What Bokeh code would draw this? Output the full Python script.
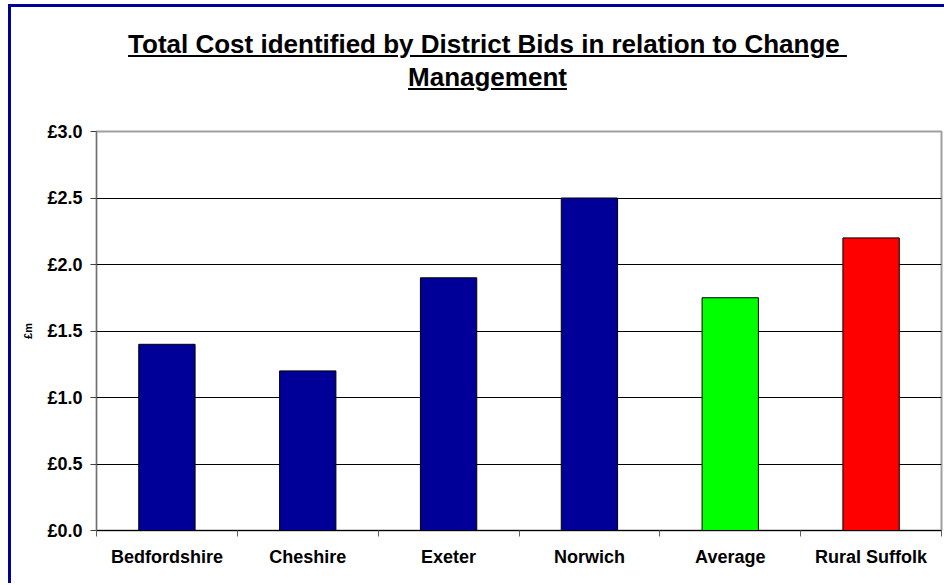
from bokeh.plotting import figure
from bokeh.models import Div, FixedTicker, Range1d, ColumnDataSource
from bokeh.layouts import column
from bokeh.embed import file_html
from bokeh.resources import INLINE

categories = ["Bedfordshire", "Cheshire", "Exeter", "Norwich", "Average", "Rural Suffolk"]
values = [1.4, 1.2, 1.9, 2.5, 1.75, 2.2]
colors = ["#000099", "#000099", "#000099", "#000099", "#00ff00", "#ff0000"]
y_ticks = [0.0, 0.5, 1.0, 1.5, 2.0, 2.5, 3.0]
y_tick_labels = ["£0.0", "£0.5", "£1.0", "£1.5", "£2.0", "£2.5", "£3.0"]
title_line1 = "Total Cost identified by District Bids in relation to Change"
title_line2 = "Management"

FONT = "'Liberation Sans', Arial, sans-serif"

centers = [i + 0.5 for i in range(len(categories))]
src = ColumnDataSource(dict(x=centers, top=values, color=colors, cat=categories))

div = Div(
    text=(
        f'<div style="display:block;box-sizing:border-box;width:933px;text-align:center;'
        f'font-family:{FONT};font-weight:bold;'
        f'font-size:26px;line-height:33px;padding-top:21px;padding-left:20px;'
        f'text-decoration:underline;color:#000;white-space:nowrap;">'
        f'{title_line1}&nbsp;<br>{title_line2}</div>'
    ),
    width=933, height=110, margin=(0, 0, 0, 0),
    styles={"width": "933px", "text-align": "center"},
)

p = figure(
    width=933, height=466, output_backend="svg", toolbar_location=None,
    x_range=Range1d(0, len(categories)), y_range=Range1d(0, 3.0),
    min_border_left=85, min_border_right=3, min_border_top=14, min_border_bottom=53,
    margin=(0, 0, 0, 0),
)
p.vbar(x="x", top="top", width=0.4, fill_color="color", line_color="#000000",
       line_width=1, source=src)

p.outline_line_color = "#a0a0a0"
p.outline_line_width = 2
p.background_fill_color = "white"
p.border_fill_color = "white"

p.xgrid.visible = False
p.ygrid.ticker = FixedTicker(ticks=y_ticks)
p.ygrid.grid_line_color = "#000000"
p.ygrid.grid_line_width = 1

# Y axis
p.yaxis.ticker = FixedTicker(ticks=y_ticks, minor_ticks=[])
p.yaxis.major_label_overrides = {t: l for t, l in zip(y_ticks, y_tick_labels)}
p.yaxis.major_label_text_font = FONT
p.yaxis.major_label_text_font_style = "bold"
p.yaxis.major_label_text_font_size = "18px"
p.yaxis.major_label_text_color = "#000000"
p.yaxis.major_label_standoff = 8
p.yaxis.major_tick_out = 6
p.yaxis.major_tick_in = 0
p.yaxis.major_tick_line_color = "#404040"
p.yaxis.axis_line_color = "#707070"
p.yaxis.axis_line_width = 1
p.yaxis.axis_label = "£m"
p.yaxis.axis_label_text_font = FONT
p.yaxis.axis_label_text_font_style = "bold"
p.yaxis.axis_label_text_font_size = "11px"
p.yaxis.axis_label_text_color = "#000000"
p.yaxis.axis_label_standoff = 10

# X axis
p.xaxis.ticker = FixedTicker(ticks=centers, minor_ticks=list(range(len(categories) + 1)))
p.xaxis.major_label_overrides = {c: n for c, n in zip(centers, categories)}
p.xaxis.major_label_text_font = FONT
p.xaxis.major_label_text_font_style = "bold"
p.xaxis.major_label_text_font_size = "18px"
p.xaxis.major_label_text_color = "#000000"
p.xaxis.major_label_standoff = 10
p.xaxis.major_tick_out = 0
p.xaxis.major_tick_in = 0
p.xaxis.minor_tick_out = 6
p.xaxis.minor_tick_in = 0
p.xaxis.minor_tick_line_color = "#606060"
p.xaxis.axis_line_color = "#000000"

root = column(
    div, p,
    styles={
        "border-left": "3px solid #000099",
        "border-top": "3px solid #000099",
        "margin-left": "8px",
        "margin-top": "4px",
        "background-color": "white",
    },
)

open("out.html", "w").write(file_html(root, INLINE))
